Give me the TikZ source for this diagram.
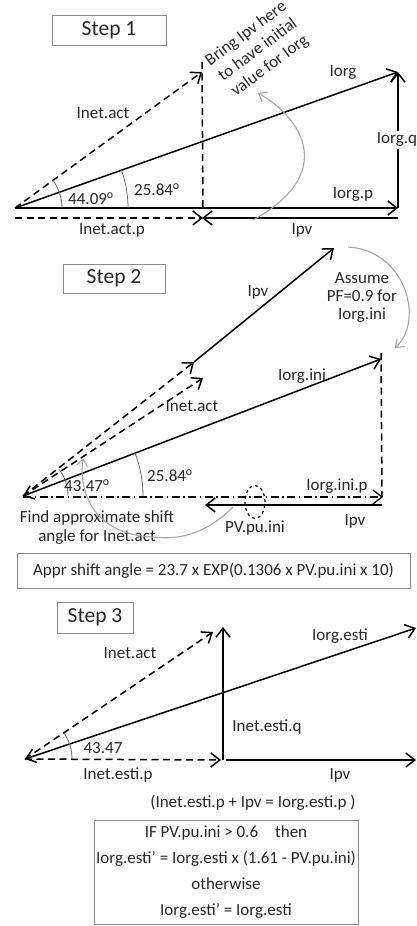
\documentclass[tikz,border=0pt]{standalone}
\usepackage{fontspec}
\setmainfont{Carlito}
\usetikzlibrary{arrows.meta,shapes.geometric}
\definecolor{txt}{HTML}{262626}
\definecolor{frame}{HTML}{8C8C8C}
\definecolor{curve}{HTML}{A6A6A6}
\begin{document}
\begin{tikzpicture}[x=1pt,y=-1pt,
  font=\fontsize{17}{20}\selectfont, text=txt,
  >={Straight Barb[length=9pt,width=14pt]},
  vec/.style={line width=1.5pt,->},
  dvec/.style={line width=1.5pt,->,dash pattern=on 7pt off 4.5pt},
  dline/.style={line width=1.5pt,dash pattern=on 7pt off 4.5pt},
  dotline/.style={line width=1.3pt,dash pattern=on 8pt off 3.5pt on 1.5pt off 3.5pt},
  anglearc/.style={draw=black!60,line width=0.8pt},
  grayarrow/.style={draw=curve,line width=1.1pt,->,>={Straight Barb[length=7pt,width=11pt]}},
  lbl/.style={inner sep=1pt},
  stepbox/.style={draw=frame,line width=0.8pt,inner sep=0pt,font=\fontsize{21.5}{24}\selectfont},
  note/.style={draw=frame,line width=0.8pt,inner sep=0pt}]
\useasboundingbox (0,0) rectangle (417,926);

% ---------------- Step 1 ----------------
\node[stepbox,minimum width=114,minimum height=30] (s1) at (109,30) {Step 1};
\coordinate (o1) at (15,208);
\coordinate (a1) at (202,72);
\coordinate (b1) at (203,208);
\coordinate (g1) at (398,72);
\coordinate (p1) at (398,208);
\coordinate (np0) at (15,218);
\coordinate (np1) at (203,218);
\coordinate (pv0) at (398,218);
\coordinate (pv1) at (202,218);
\draw[dvec] (o1) -- (a1);
\draw[dline] ([yshift=10]a1) -- (b1);
\draw[vec] (o1) -- (g1);
\draw[vec] (o1) -- (p1);
\draw[vec] (p1) -- (g1);
\draw[dvec] (np0) -- (np1);
\draw[vec] (pv0) -- (pv1);
\draw[anglearc] ([xshift=47]o1) arc[start angle=0,end angle=-36,radius=47];
\draw[anglearc] ([xshift=113]o1) arc[start angle=0,end angle=-19.5,radius=113];
\node[lbl] (l44) at (91,199) {44.09\textsuperscript{o}};
\node[lbl] (l258a) at (157,190) {25.84\textsuperscript{o}};
\node[lbl] (lnet1) at (103,113) {Inet.act};
\node[lbl] (lorg1) at (343,73) {Iorg};
\node[lbl,fill=white,inner sep=2pt] (lorgq) at (397,140) {Iorg.q};
\node[lbl] (lorgp) at (353,195) {Iorg.p};
\node[lbl] (lnetp1) at (112,230) {Inet.act.p};
\node[lbl] (lpv1) at (302,230) {Ipv};
\node[lbl,rotate=36.6,align=center,font=\fontsize{17}{20}\selectfont] (bring) at (258,50)
  {Bring Ipv here\\to have initial\\value for Iorg};
\coordinate (c1s) at (253,220);
\coordinate (c1e) at (258,93);
\draw[grayarrow] (c1s) .. controls (335,175) and (305,120) .. (c1e);

% ---------------- Step 2 ----------------
\node[stepbox,minimum width=102,minimum height=29] (s2) at (114,278.5) {Step 2};
\coordinate (o2) at (23,496);
\coordinate (d1) at (194,362);
\coordinate (d2) at (203,378);
\coordinate (v2) at (334,248);
\coordinate (r2) at (381,359);
\coordinate (f2) at (382,497);
\coordinate (h0) at (23,497);
\coordinate (h1) at (383,497);
\coordinate (i0) at (382,505);
\coordinate (i1) at (205,505);
\draw[dvec] (o2) -- (d1);
\draw[dvec] (o2) -- (d2);
\draw[vec] (d1) -- (v2);
\draw[vec,<->] (o2) -- (r2);
\draw[dline] ([yshift=6]r2) -- (f2);
\draw[dotline,->] (h0) -- (h1);
\draw[vec] (i0) -- (i1);
\node[draw,ellipse,dashed,line width=1.2pt,minimum width=20,minimum height=33,inner sep=0pt] (pu) at (255,502) {};
\draw[anglearc] ([xshift=45]o2) arc[start angle=0,end angle=-36,radius=45];
\draw[anglearc] ([xshift=120]o2) arc[start angle=0,end angle=-20.9,radius=120];
\node[lbl] (l43a) at (87,486) {43.47\textsuperscript{o}};
\node[lbl] (l258b) at (170,476) {25.84\textsuperscript{o}};
\node[lbl] (lpv2) at (258,292) {Ipv};
\node[lbl] (lnet2) at (192,406) {Inet.act};
\node[lbl] (lini) at (302,376) {Iorg.ini};
\node[lbl] (linip) at (337,486) {Iorg.ini.p};
\node[lbl] (lpu) at (255,528) {PV.pu.ini};
\node[lbl] (lpv3) at (355,521) {Ipv};
\node[lbl,align=center,font=\fontsize{17}{19}\selectfont] (find) at (97,528)
  {Find approximate shift\\angle for Inet.act};
\node[lbl,align=center,font=\fontsize{17}{18}\selectfont] (assume) at (362,298)
  {Assume\\PF=0.9 for\\Iorg.ini};
\coordinate (c2s) at (233,507);
\coordinate (c2m) at (153,537);
\coordinate (c2e) at (83,458);
\draw[grayarrow] (c2s) .. controls (205,535) and (178,540) .. (c2m)
  .. controls (100,535) and (78,500) .. (c2e);
\coordinate (c3s) at (348,247);
\coordinate (c3e) at (395,348);
\draw[grayarrow] (c3s) .. controls (405,250) and (425,320) .. (c3e);
\node[note,minimum width=393,minimum height=35] (appr) at (213.5,570.5)
  {Appr shift angle = 23.7 x EXP(0.1306 x PV.pu.ini x 10)};

% ---------------- Step 3 ----------------
\node[stepbox,minimum width=76,minimum height=31] (s3) at (95,617.5) {Step 3};
\coordinate (o3) at (25,759);
\coordinate (e1) at (213,632);
\coordinate (q0) at (223,760);
\coordinate (q1) at (223,627);
\coordinate (t3) at (416,628);
\coordinate (ep) at (221,760);
\coordinate (pv4) at (226,760);
\coordinate (pv5) at (416,760);
\draw[dvec] (o3) -- (e1);
\draw[vec,<->] (o3) -- (t3);
\draw[vec] (q0) -- (q1);
\draw[dvec] (o3) -- (ep);
\draw[vec] (pv4) -- (pv5);
\draw[anglearc] ([xshift=47]o3) arc[start angle=0,end angle=-34,radius=47];
\node[lbl] (l43b) at (103,748) {43.47};
\node[lbl] (lnet3) at (130,653) {Inet.act};
\node[lbl] (lesti) at (340,636) {Iorg.esti};
\node[lbl] (lq) at (267,727) {Inet.esti.q};
\node[lbl] (lpv6) at (340,775) {Ipv};
\node[lbl] (lep) at (118,775) {Inet.esti.p};
\node[lbl] (sum) at (253,803) {(Inet.esti.p + Ipv = Iorg.esti.p )};
\node[note,minimum width=264,minimum height=104] (rule) at (226,872) {};
\node[lbl,align=center,font=\fontsize{17}{26}\selectfont] (ruletxt) at (rule.center)
  {IF PV.pu.ini > 0.6\quad then\\Iorg.esti' = Iorg.esti x (1.61 - PV.pu.ini)\\otherwise\\Iorg.esti' = Iorg.esti};
\end{tikzpicture}
\end{document}
